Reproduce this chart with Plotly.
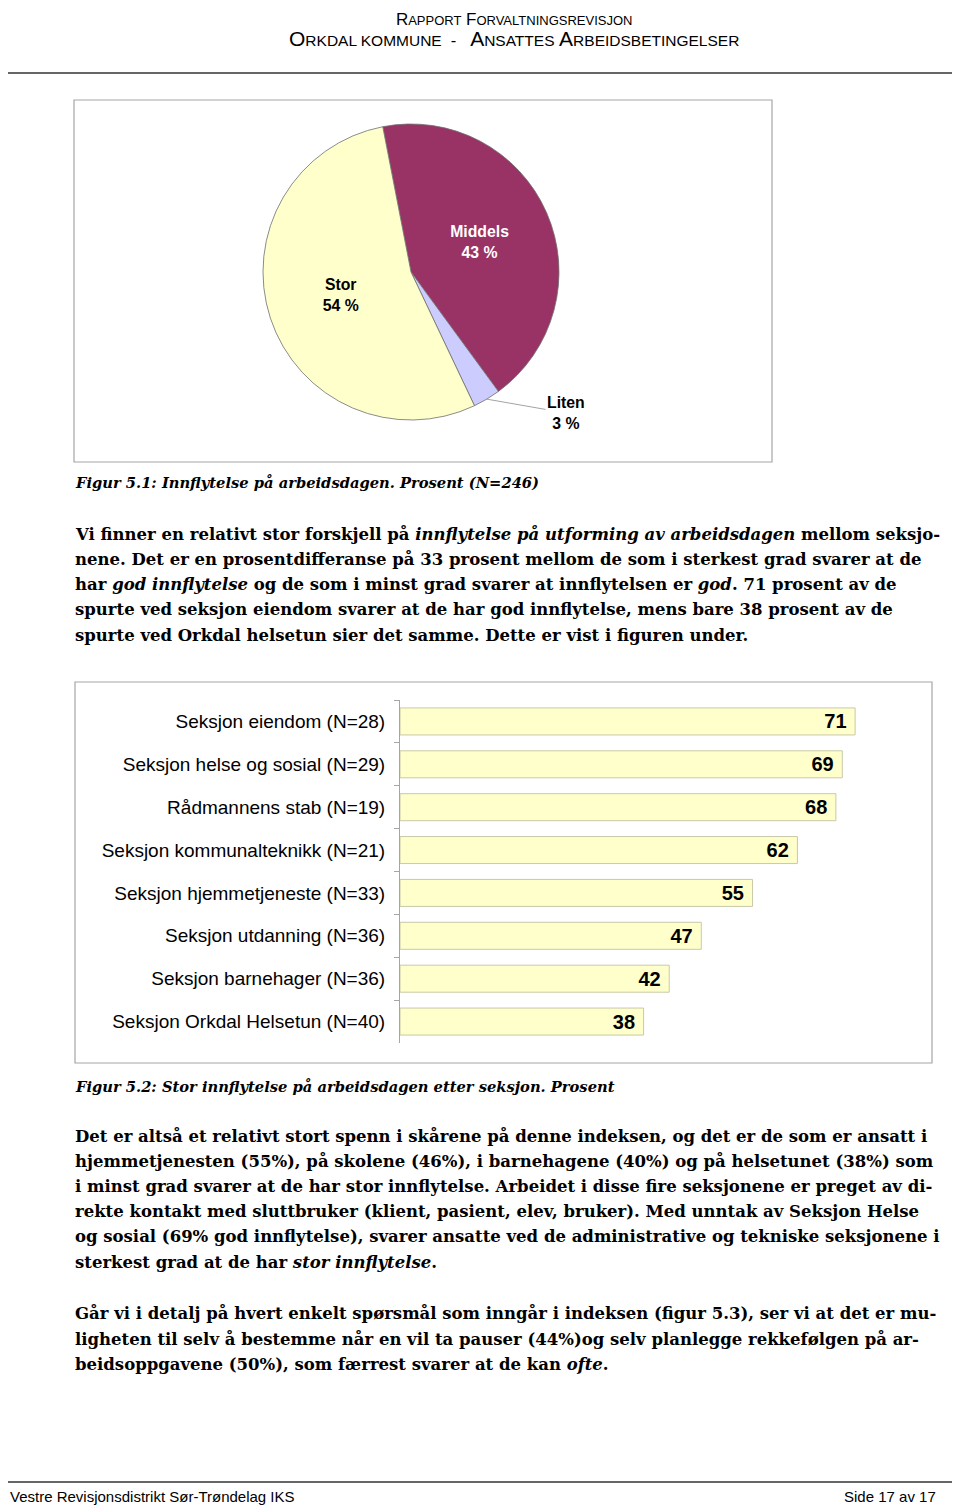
import math
import plotly.graph_objects as go

# the page body adds an 8px margin, so the figure is a bit smaller
OFF = 8
W, H = 960 - OFF, 1507 - OFF

# pie data (figur 5.1)
pie_labels = ["Middels", "Liten", "Stor"]
pie_values = [43, 3, 54]
pie_colors = ["#993366", "#CCCCFF", "#FFFFCC"]

# bar data (figur 5.2)
sections = ["Seksjon eiendom (N=28)", "Seksjon helse og sosial (N=29)",
            "Rådmannens stab (N=19)", "Seksjon kommunalteknikk (N=21)",
            "Seksjon hjemmetjeneste (N=33)", "Seksjon utdanning (N=36)",
            "Seksjon barnehager (N=36)", "Seksjon Orkdal Helsetun (N=40)"]
stor_pct = [71, 69, 68, 62, 55, 47, 42, 38]

para1 = [
    "Vi finner en relativt stor forskjell på <i>innflytelse på utforming av arbeidsdagen</i> mellom seksjo-",
    "nene. Det er en prosentdifferanse på 33 prosent mellom de som i sterkest grad svarer at de",
    "har <i>god innflytelse</i> og de som i minst grad svarer at innflytelsen er <i>god</i>. 71 prosent av de",
    "spurte ved seksjon eiendom svarer at de har god innflytelse, mens bare 38 prosent av de",
    "spurte ved Orkdal helsetun sier det samme. Dette er vist i figuren under.",
]
para2 = [
    "Det er altså et relativt stort spenn i skårene på denne indeksen, og det er de som er ansatt i",
    "hjemmetjenesten (55%), på skolene (46%), i barnehagene (40%) og på helsetunet (38%) som",
    "i minst grad svarer at de har stor innflytelse. Arbeidet i disse fire seksjonene er preget av di-",
    "rekte kontakt med sluttbruker (klient, pasient, elev, bruker). Med unntak av Seksjon Helse",
    "og sosial (69% god innflytelse), svarer ansatte ved de administrative og tekniske seksjonene i",
    "sterkest grad at de har <i>stor innflytelse</i>.",
]
para3 = [
    "Går vi i detalj på hvert enkelt spørsmål som inngår i indeksen (figur 5.3), ser vi at det er mu-",
    "ligheten til selv å bestemme når en vil ta pauser (44%)og selv planlegge rekkefølgen på ar-",
    "beidsoppgavene (50%), som færrest svarer at de kan <i>ofte</i>.",
]


def px(x):
    return (x - OFF) / W


def py(y):
    return 1 - (y - OFF) / H


SANS = "Liberation Sans, Arial, sans-serif"
SERIF = "DejaVu Serif, serif"

# pie geometry (page pixels)
cx, cy, R = 411, 272, 148
rot = -11

fig = go.Figure()

fig.add_trace(go.Pie(
    labels=pie_labels, values=pie_values, sort=False,
    direction="clockwise", rotation=rot,
    marker=dict(colors=pie_colors, line=dict(color="#6E6E6E", width=0.8)),
    texttemplate="<b>%{label}<br>%{value} %</b>",
    textposition=["inside", "none", "inside"],
    insidetextorientation="horizontal",
    textfont=dict(family=SANS, size=15.8, color=["white", "black", "black"]),
    domain=dict(x=[px(cx - R), px(cx + R)], y=[py(cy + R), py(cy - R)]),
    showlegend=False, hoverinfo="label+percent",
))

fig.add_trace(go.Bar(
    x=stor_pct, y=sections, orientation="h",
    marker=dict(color="#FFFFCC", line=dict(color="#C9C9A8", width=1)),
    texttemplate="<b>%{x}</b>\u00a0", textposition="inside", insidetextanchor="end",
    textfont=dict(family=SANS, size=20, color="black"),
    constraintext="none", width=0.63,
    showlegend=False, xaxis="x", yaxis="y",
))

# leader label for the small slice
tot = sum(pie_values)
mid = rot + (sum(pie_values[:1]) + pie_values[1] / 2) / tot * 360
tip_x = cx + R * math.sin(math.radians(mid))
tip_y = cy - R * math.cos(math.radians(mid))

ann = [dict(x=px(tip_x), y=py(tip_y), xref="paper", yref="paper",
            text="<b>%s<br>%d %%</b>" % (pie_labels[1], pie_values[1]),
            showarrow=True, arrowhead=0, arrowwidth=0.8, arrowcolor="#8C8C8C",
            ax=566 - tip_x, ay=413 - tip_y,
            font=dict(family=SANS, size=15.8, color="black"))]


def line(txt, x, y, size, family, anchor="left", color="black", vanchor="middle"):
    ann.append(dict(x=px(x), y=py(y), xref="paper", yref="paper", text=txt,
                    showarrow=False, xanchor=anchor, yanchor=vanchor,
                    font=dict(family=family, size=size, color=color)))


# header (small caps imitation), both lines in one block
def sc(t, s):
    return "<span style='font-size:%spx'>%s</span>" % (s, t)


head1 = sc("R", 17) + sc("APPORT", 13) + " " + sc("F", 17) + sc("ORVALTNINGSREVISJON", 13)
head2 = (sc("O", 21) + sc("RKDAL KOMMUNE", 15.5) + "  -   " + sc("A", 21) + sc("NSATTES", 15.5)
         + " " + sc("A", 21) + sc("RBEIDSBETINGELSER", 15.5))
line(head1 + "<br>" + head2, 514, 8, 16.5, SANS, "center", vanchor="top")

# captions
line("<b><i>Figur 5.1: Innflytelse på arbeidsdagen. Prosent (N=246)</i></b>", 73, 483, 14.7, SERIF)
line("<b><i>Figur 5.2: Stor innflytelse på arbeidsdagen etter seksjon. Prosent</i></b>", 73, 1086, 14.7, SERIF)

for i, t in enumerate(para1):
    line("<b>" + t + "</b>", 73, 534 + i * 25.3, 16.5, SERIF)
for i, t in enumerate(para2):
    line("<b>" + t + "</b>", 73, 1136 + i * 25.2, 16.5, SERIF)
for i, t in enumerate(para3):
    line("<b>" + t + "</b>", 73, 1313 + i * 25.5, 16.5, SERIF)

# footer
line("Vestre Revisjonsdistrikt Sør-Trøndelag IKS", 8, 1496, 15, SANS)
line("Side 17 av 17", 938, 1496, 15, SANS, "right")

shapes = [
    dict(type="line", xref="paper", yref="paper", x0=0, x1=px(957), y0=py(73), y1=py(73),
         line=dict(color="#333333", width=1.5)),
    dict(type="line", xref="paper", yref="paper", x0=0, x1=px(957), y0=py(1482), y1=py(1482),
         line=dict(color="#333333", width=1.5)),
    dict(type="rect", xref="paper", yref="paper", x0=px(74), x1=px(772), y0=py(462), y1=py(100),
         line=dict(color="#A6A6A6", width=1.2)),
    dict(type="rect", xref="paper", yref="paper", x0=px(75), x1=px(932), y0=py(1063), y1=py(682),
         line=dict(color="#A6A6A6", width=1.2)),
]

fig.update_layout(
    width=W, height=H, margin=dict(l=0, r=0, t=0, b=0),
    paper_bgcolor="white", plot_bgcolor="white",
    xaxis=dict(domain=[px(400), px(900)], range=[0, 500 / 6.41], visible=False,
               fixedrange=True),
    yaxis=dict(domain=[py(1043), py(700)], autorange="reversed", type="category",
               categoryorder="array", categoryarray=sections,
               showline=True, linecolor="#A6A6A6", linewidth=1,
               ticks="outside", ticklen=5, tickcolor="#A6A6A6", tickson="boundaries",
               ticklabelstandoff=10, showgrid=False,
               tickfont=dict(family=SANS, size=19, color="black")),
    bargap=0.37,
    annotations=ann, shapes=shapes,
)

fig.write_html("out.html")
